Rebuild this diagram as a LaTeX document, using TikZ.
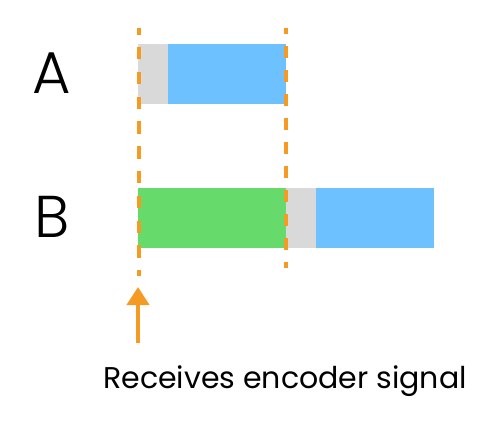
\documentclass[tikz,border=0pt]{standalone}
\usepackage{fontspec}
\setmainfont{Poppins}
\newfontfamily\lanefont{Poppins Light}
\usetikzlibrary{arrows.meta,positioning}
\definecolor{idlegray}{RGB}{217,217,217}
\definecolor{runblue}{RGB}{110,193,255}
\definecolor{encgreen}{RGB}{102,218,106}
\definecolor{markorange}{RGB}{245,154,35}

\begin{document}
\begin{tikzpicture}[
  x=1pt, y=-1pt,
  bar/.style={rectangle, inner sep=0pt, outer sep=0pt, minimum height=60pt},
  lane/.style={font=\lanefont\fontsize{59}{62}\selectfont},
  guide/.style={markorange, line width=4pt},
  arr/.style={-{Triangle[length=18pt,width=22pt]}, markorange, line width=4pt}
]
\useasboundingbox (0,0) rectangle (498,432);

% lane A
\node[bar, fill=idlegray, minimum width=30pt, anchor=north west] (aidle) at (138,44) {};
\node[bar, fill=runblue, minimum width=118pt, right=0pt of aidle] (arun) {};
\node[lane, anchor=base] (alabel) at (52,93) {A};

% lane B
\node[bar, fill=encgreen, minimum width=148pt, anchor=north west] (benc) at (138,188) {};
\node[bar, fill=idlegray, minimum width=30pt, right=0pt of benc] (bidle) {};
\node[bar, fill=runblue, minimum width=118pt, right=0pt of bidle] (brun) {};
\node[lane, anchor=base] (blabel) at (52,237) {B};

% guides
\coordinate (ltop) at (139,28);
\coordinate (lbot) at (139,276);
\coordinate (rtop) at (286,28);
\coordinate (rbot) at (286,268);
\draw[guide, dash pattern=on 12.4pt off 12.4pt, dash phase=5.8pt] (ltop) -- (lbot);
\draw[guide, dash pattern=on 12pt off 12pt, dash phase=6pt] (rtop) -- (rbot);

% signal
\node[anchor=base, font=\fontsize{30}{32}\selectfont] (caption) at (285,388) {Receives encoder signal};
\coordinate (sigtail) at (138,343);
\coordinate (sighead) at (138,287);
\draw[arr] (sigtail) -- (sighead);
\end{tikzpicture}
\end{document}
